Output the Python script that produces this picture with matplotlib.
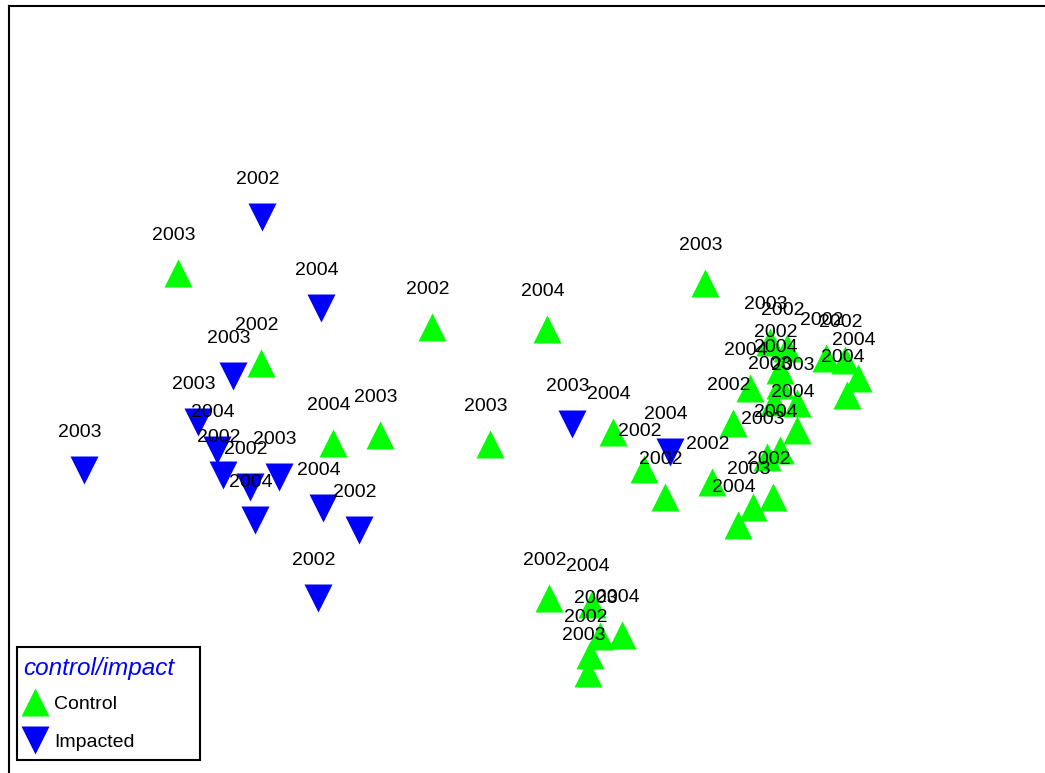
import matplotlib.pyplot as plt
import matplotlib.patches as patches
import numpy as np

plt.rcParams['font.family'] = ['Liberation Sans', 'DejaVu Sans']

# MDS ordination coordinates, control sites
ctrl_x = np.array([-1.71, -1.295, -0.44, 0.135, 0.925, -0.935, -0.70, -0.15, 0.465, 0.62, 0.725,
                   1.25, 1.335, 1.53, 1.625, 1.30, 1.30, 1.15, 1.27, 1.385, 1.69, 1.635,
                   1.065, 1.385, 1.30, 1.235, 1.265, 1.165, 1.09, 0.96,
                   0.145, 0.36, 0.40, 0.51, 0.35, 0.34])
ctrl_y = np.array([0.785, 0.335, 0.515, 0.505, 0.735, -0.065, -0.025, -0.07, -0.01, -0.195, -0.335,
                   0.44, 0.41, 0.36, 0.35, 0.30, 0.225, 0.21, 0.14, 0.135, 0.26, 0.175,
                   0.035, 0.0, -0.10, -0.135, -0.335, -0.385, -0.475, -0.26,
                   -0.84, -0.87, -1.03, -1.025, -1.125, -1.215])
ctrl_year = ['2003', '2002', '2002', '2004', '2003', '2004', '2003', '2003', '2004', '2002', '2002',
             '2003', '2002', '2002', '2002', '2002', '2004', '2004', '2003', '2003', '2004', '2004',
             '2002', '2004', '2004', '2003', '2002', '2003', '2004', '2002',
             '2002', '2004', '2003', '2004', '2002', '2003']

# impacted sites
imp_x = np.array([-2.18, -1.29, -0.995, -1.435, -1.61, -1.515, -1.485, -1.35, -1.205,
                  -1.325, -0.985, -0.805, -1.01, 0.26, 0.75])
imp_y = np.array([-0.20, 1.065, 0.61, 0.27, 0.04, -0.10, -0.225, -0.285, -0.235,
                  -0.45, -0.39, -0.50, -0.84, 0.03, -0.11])
imp_year = ['2003', '2002', '2004', '2003', '2003', '2004', '2002', '2002', '2003',
            '2004', '2004', '2002', '2002', '2003', '2004']

green = '#00ff00'
blue = '#0000ff'

W, H = 1045, 773
fig = plt.figure(figsize=(W / 100, H / 100), dpi=100)
ax = fig.add_axes([9 / W, -0.02, 1.0, 1 - 6 / H + 0.02])

ax.plot(ctrl_x, ctrl_y, '^', color=green, ms=20, mec='none', label='Control', zorder=3)
ax.plot(imp_x, imp_y, 'v', color=blue, ms=20, mec='none', label='Impacted', zorder=3)

for xs, ys, yrs in [(ctrl_x, ctrl_y, ctrl_year), (imp_x, imp_y, imp_year)]:
    for x, y, t in zip(xs, ys, yrs):
        ax.annotate(t, (x, y), xytext=(-3, 27), textcoords='offset points',
                    ha='center', va='center', fontsize=14, color='black', zorder=4)

ax.set_xlim(-2.555, 2.67)
ax.set_ylim(-1.79, 2.12)
ax.set_xticks([])
ax.set_yticks([])
for s in ax.spines.values():
    s.set_linewidth(1.5)

# legend entries without frame; title and box drawn separately
leg = ax.legend(loc='center left', bbox_to_anchor=(18.8 / W, 1 - 723 / H),
                bbox_transform=fig.transFigure, fontsize=14, frameon=False,
                borderaxespad=0, borderpad=0.2, numpoints=1,
                handlelength=1.3, handletextpad=0.32, labelspacing=1.05)
fig.text(23 / W, 1 - 668 / H, 'control/impact', ha='left', va='center',
         fontsize=17.5, style='italic', color=blue)

box = patches.Rectangle((17 / W, 1 - 760 / H), 183 / W, 113 / H, transform=fig.transFigure,
                        fill=False, edgecolor='black', linewidth=1.5, zorder=5)
fig.add_artist(box)

fig.savefig('out.png', dpi=100)
